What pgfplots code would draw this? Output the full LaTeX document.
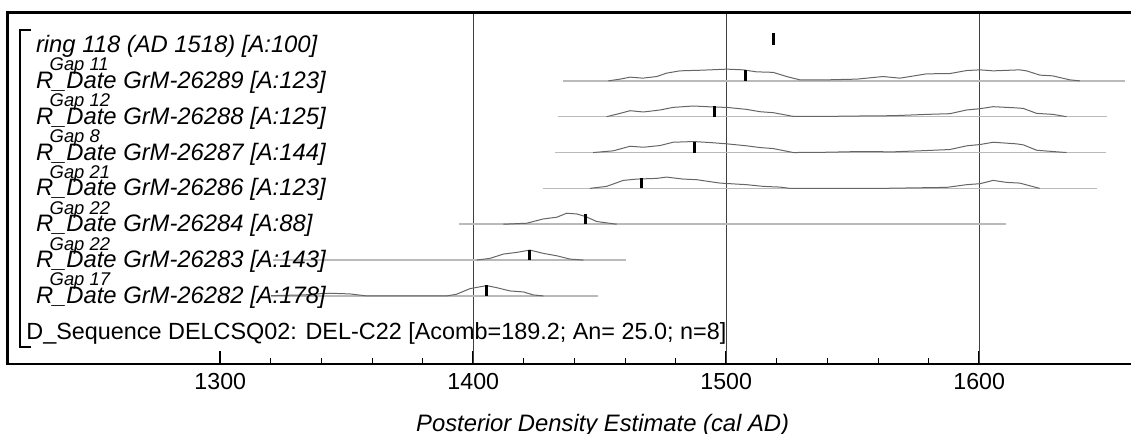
\documentclass[border=0pt]{standalone}
\usepackage{fontspec}
\setmainfont{Liberation Sans}
\usepackage{pgfplots}
\pgfplotsset{compat=1.18}

\begin{document}
\begin{tikzpicture}
    \begin{axis}[
            name=ax,
            scale only axis,
            width=561.65pt,
            height=175.75pt,
            xmin=1216, xmax=1660,
            ymin=12.5, ymax=364,
            y dir=reverse,
            clip=false,
            axis line style={draw=none},
            font=\fontsize{11.9}{14}\selectfont,
            xtick={1300,1400,1500,1600},
            xticklabels={1300,1400,1500,1600},
            minor x tick num=4,
            ytick=\empty,
            xtick pos=left,
            tick align=inside,
            major tick length=6.5pt,
            minor tick length=3pt,
            major tick style={black, line width=1pt},
            minor tick style={black, line width=0.5pt},
            xticklabel style={font=\fontsize{11.6}{13}\selectfont, yshift=-1pt},
            extra x ticks={1400,1500,1600},
            extra x tick labels={},
            extra x tick style={grid=major, major tick length=0pt,
                    major grid style={black!75, line width=0.6pt}},
            xlabel={Posterior Density Estimate (cal AD)},
            xlabel style={at={(rel axis cs:0.5296,0)}, anchor=base,
                    yshift=-33.85pt, font=\fontsize{11.9}{14}\selectfont\itshape},
            dens/.style={black!60, line width=0.5pt},
            rng/.style={black!27, line width=0.75pt},
            med/.style={black, line width=1.5pt},
        ]

        % ring 118 (AD 1518)
        \addplot[med] coordinates {(1518.5,45) (1518.5,33.5)};

        % R_Date GrM-26289
        \addplot[rng] coordinates {(1435.6,80.85) (1657.6,80.85)};
        \addplot[dens] table[x=yr, y expr=80.85-\thisrow{h}] {
                yr h
                1453.4 0
                1458 1.7
                1462 3.7
                1467 2.7
                1472.5 4.3
                1476.4 7.7
                1481.7 10
                1490.9 10.7
                1500.2 11.7
                1506.7 11
                1512 9
                1518.5 8.5
                1523.9 4.3
                1529.1 1
                1539.7 1
                1551.5 1.7
                1562 4.3
                1568.7 2.7
                1579.2 7
                1588.4 7.3
                1595 10.3
                1600.3 11
                1605.5 10
                1616 11
                1618.7 10
                1624 5.7
                1629 5
                1635.8 1
                1639.8 0
            };
        \addplot[med] coordinates {(1507.7,80.85) (1507.7,70.35)};

        % R_Date GrM-26288
        \addplot[rng] coordinates {(1433.6,116.7) (1650.7,116.7)};
        \addplot[dens] table[x=yr, y expr=116.7-\thisrow{h}] {
                yr h
                1452.7 0
                1458 3.3
                1462 6
                1467.2 4.7
                1473.8 6.7
                1479 9.3
                1487 10.7
                1494.9 9.7
                1500.2 9.3
                1508.1 7.3
                1513.3 5
                1518.6 4
                1526.5 0.3
                1539.7 0.3
                1552.8 0.7
                1566 1
                1579.2 2.3
                1588.4 3
                1595 6.7
                1600.3 8
                1605.5 10
                1613.4 9
                1617.4 8.3
                1622.7 3.3
                1629.2 2.3
                1634.5 0
            };
        \addplot[med] coordinates {(1495.5,116.7) (1495.5,106.2)};

        % R_Date GrM-26287
        \addplot[rng] coordinates {(1432.3,152.55) (1650,152.55)};
        \addplot[dens] table[x=yr, y expr=152.55-\thisrow{h}] {
                yr h
                1447.4 0
                1455.3 1.7
                1462 6.3
                1467.2 5.3
                1473.8 7
                1479 10.3
                1487 11
                1493.6 10
                1500.2 8.7
                1508.1 6.7
                1513.3 5
                1518.5 4
                1526.5 0
                1539.7 0.3
                1552.8 1
                1566 0.7
                1579.2 2
                1588.4 3
                1595 6.7
                1600.3 8
                1605.5 10.3
                1614.7 8.7
                1617.4 7.7
                1622.7 2.3
                1629.2 1
                1634.5 0
            };
        \addplot[med] coordinates {(1487.6,152.55) (1487.6,142.05)};

        % R_Date GrM-26286
        \addplot[rng] coordinates {(1427.4,188.4) (1646.6,188.4)};
        \addplot[dens] table[x=yr, y expr=188.4-\thisrow{h}] {
                yr h
                1446.1 0
                1452.7 2
                1459.3 8
                1464.6 9.3
                1472.5 10
                1476.4 11.3
                1483 9.3
                1488.3 8.7
                1497.5 5.3
                1508.1 3.7
                1514.6 2
                1521.2 1.3
                1525.2 0
                1560.8 0
                1587.1 1
                1595 3.7
                1600.3 4.7
                1605.5 8
                1610.8 6
                1616 5.3
                1623.9 0
            };
        \addplot[med] coordinates {(1466.3,188.4) (1466.3,177.9)};

        % R_Date GrM-26284
        \addplot[rng] coordinates {(1394.5,224.25) (1610.6,224.25)};
        \addplot[dens] table[x=yr, y expr=224.25-\thisrow{h}] {
                yr h
                1411.9 0
                1421.1 1
                1427.7 5.3
                1433 7
                1436.9 11
                1440.9 10.3
                1444.4 7.7
                1448.8 2.7
                1456.7 0
            };
        \addplot[med] coordinates {(1444.4,224.25) (1444.4,213.75)};

        % R_Date GrM-26283
        \addplot[rng] coordinates {(1321,260.1) (1460.4,260.1)};
        \addplot[dens] table[x=yr, y expr=260.1-\thisrow{h}] {
                yr h
                1401.3 0
                1406.6 1.7
                1411.9 6
                1417.2 7.7
                1422.4 10
                1427.7 6.7
                1433 4.3
                1438.2 1
                1443.5 0
            };
        \addplot[med] coordinates {(1422.4,260.1) (1422.4,249.6)};

        % R_Date GrM-26282
        \addplot[rng] coordinates {(1320,295.95) (1449.4,295.95)};
        \addplot[dens] table[x=yr, y expr=295.95-\thisrow{h}] {
                yr h
                1320 0.3
                1333 1
                1340 2.3
                1343.3 2.7
                1351.3 2
                1357.9 0
                1389.5 0
                1393.4 1.7
                1398.7 7.3
                1405.3 10.3
                1409.2 8.3
                1414.5 5
                1419.8 4
                1423.7 1
                1427.7 0
            };
        \addplot[med] coordinates {(1405.3,295.95) (1405.3,285.45)};

        % labels
        \begin{scope}[every node/.style={anchor=base west, inner sep=0pt,
                        font=\fontsize{11.9}{14}\selectfont\itshape}]
            \node at (axis cs:1227,52.5) {ring 118 (AD 1518) [A:100]};
            \node at (axis cs:1227,88.35) {R\_Date GrM-26289 [A:123]};
            \node at (axis cs:1227,124.2) {R\_Date GrM-26288 [A:125]};
            \node at (axis cs:1227,160.05) {R\_Date GrM-26287 [A:144]};
            \node at (axis cs:1227,195.9) {R\_Date GrM-26286 [A:123]};
            \node at (axis cs:1227,231.75) {R\_Date GrM-26284 [A:88]};
            \node at (axis cs:1227,267.6) {R\_Date GrM-26283 [A:143]};
            \node at (axis cs:1227,303.45) {R\_Date GrM-26282 [A:178]};
        \end{scope}
        \begin{scope}[every node/.style={anchor=base west, inner sep=0pt,
                        font=\fontsize{9.2}{10}\selectfont\itshape}]
            \node at (axis cs:1232.4,70.85) {Gap 11};
            \node at (axis cs:1232.4,106.7) {Gap 12};
            \node at (axis cs:1232.4,142.55) {Gap 8};
            \node at (axis cs:1232.4,178.4) {Gap 21};
            \node at (axis cs:1232.4,214.25) {Gap 22};
            \node at (axis cs:1232.4,250.1) {Gap 22};
            \node at (axis cs:1232.4,285.95) {Gap 17};
        \end{scope}
        \node[anchor=base west, inner sep=0pt, font=\fontsize{11.7}{14}\selectfont]
            at (axis cs:1223.2,339.3)
            {D\_Sequence DELCSQ02: DEL-C22 [Acomb=189.2; An= 25.0; n=8]};

        % sequence bracket
        \draw[line width=1pt] (axis cs:1225.2,30) -- (axis cs:1220.8,30)
            -- (axis cs:1220.8,347) -- (axis cs:1225.2,347);

        % frame (left, top, bottom)
        \draw[line width=1.4pt] (rel axis cs:1,1) -- (rel axis cs:0,1)
            -- (rel axis cs:0,0) -- (rel axis cs:1,0);
    \end{axis}
    \pgfresetboundingbox
    \path[use as bounding box] ([xshift=-3.9pt,yshift=-35pt]ax.south west)
        rectangle ([yshift=6.25pt]ax.north east);
\end{tikzpicture}
\end{document}
